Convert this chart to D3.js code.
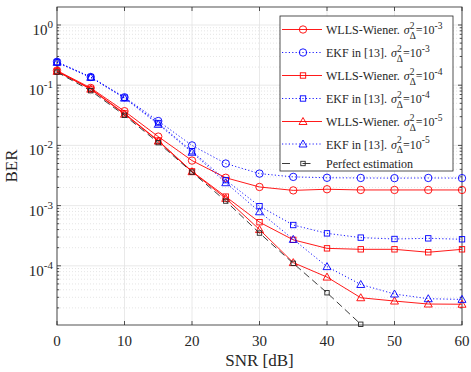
<!DOCTYPE html>
<html>
<head>
<meta charset="utf-8">
<script src="https://cdn.jsdelivr.net/npm/d3@7"></script>
<style>
  body { margin: 0; background: #fff; }
  svg { display: block; font-family: "Liberation Serif", "Times New Roman", serif; }
</style>
</head>
<body>
<div id="chart"></div>
<script>
const snr = [0, 5, 10, 15, 20, 25, 30, 35, 40, 45, 50, 55, 60];
const wllsE3 = [0.175, 0.09, 0.037, 0.014, 0.0056, 0.0029, 0.00204, 0.00179, 0.00187, 0.00182, 0.00182, 0.00182, 0.00182];
const ekfE3 = [0.245, 0.137, 0.063, 0.0254, 0.01, 0.005, 0.0034, 0.003, 0.0029, 0.00288, 0.00286, 0.00288, 0.00286];
const wllsE4 = [0.17, 0.087, 0.034, 0.012, 0.0037, 0.00141, 0.00053, 0.00027, 0.000195, 0.000188, 0.000188, 0.000168, 0.000188];
const ekfE4 = [0.24, 0.135, 0.062, 0.0235, 0.008, 0.00265, 0.00098, 0.000476, 0.000346, 0.000294, 0.000279, 0.000286, 0.000276];
const wllsE5 = [0.17, 0.086, 0.033, 0.0118, 0.00366, 0.00132, 0.0004, 0.000113, 6.5e-5, 2.95e-5, 2.6e-5, 2.32e-5, 2.3e-5];
const ekfE5 = [0.24, 0.135, 0.061, 0.0224, 0.0077, 0.0024, 0.00079, 0.000275, 9.7e-5, 4.9e-5, 3.4e-5, 2.84e-5, 2.77e-5];
const perfect = [0.165, 0.081, 0.0316, 0.0111, 0.0036, 0.00119, 0.00035, 0.00011, 3.57e-5, 1.07e-5];

const xTicks = [0, 10, 20, 30, 40, 50, 60];
const yExps = [0, -1, -2, -3, -4];

const RED = "#ff0000", BLUE = "#0000ff", BLACK = "#262626";
const series = [
  { name: "WLLS-Wiener.", exp: "-3", values: wllsE3, color: RED, dash: null, marker: "circle" },
  { name: "EKF in [13].", exp: "-3", values: ekfE3, color: BLUE, dash: "1.2,2.2", marker: "circle" },
  { name: "WLLS-Wiener.", exp: "-4", values: wllsE4, color: RED, dash: null, marker: "square" },
  { name: "EKF in [13].", exp: "-4", values: ekfE4, color: BLUE, dash: "1.2,2.2", marker: "square" },
  { name: "WLLS-Wiener.", exp: "-5", values: wllsE5, color: RED, dash: null, marker: "triangle" },
  { name: "EKF in [13].", exp: "-5", values: ekfE5, color: BLUE, dash: "1.2,2.2", marker: "triangle" },
  { name: "Perfect estimation", exp: null, values: perfect, color: BLACK, dash: "7,4", marker: "small" },
];

const width = 471, height = 372;
const pL = 57, pR = 462, pT = 7, pB = 325;

const x = d3.scaleLinear().domain([0, 60]).range([pL, pR]);
const y = d3.scaleLog().domain([1.04e-5, 1.99]).range([pB, pT]);

const svg = d3.select("#chart").append("svg")
  .attr("width", width).attr("height", height);

// minor grid (dotted) on y
const minors = [];
for (let e = -5; e <= 0; e++) {
  for (let m = 2; m <= 9; m++) {
    const v = m * Math.pow(10, e);
    if (v > y.domain()[0] && v < y.domain()[1]) minors.push(v);
  }
}
svg.append("g").selectAll("line").data(minors).enter().append("line")
  .attr("x1", pL).attr("x2", pR)
  .attr("y1", (d) => y(d)).attr("y2", (d) => y(d))
  .attr("stroke", "#d4d4d4").attr("stroke-width", 0.6)
  .attr("stroke-dasharray", "1,2");

// major grid
const majors = yExps.map((e) => Math.pow(10, e));
svg.append("g").selectAll("line").data(majors).enter().append("line")
  .attr("x1", pL).attr("x2", pR)
  .attr("y1", (d) => y(d)).attr("y2", (d) => y(d))
  .attr("stroke", "#e3e3e3").attr("stroke-width", 0.8);
svg.append("g").selectAll("line").data(xTicks).enter().append("line")
  .attr("x1", (d) => x(d)).attr("x2", (d) => x(d))
  .attr("y1", pT).attr("y2", pB)
  .attr("stroke", "#e3e3e3").attr("stroke-width", 0.8);

// axes box + ticks
const axG = svg.append("g").attr("stroke", BLACK).attr("stroke-width", 0.8);
axG.append("rect").attr("x", pL).attr("y", pT)
  .attr("width", pR - pL).attr("height", pB - pT).attr("fill", "none");
xTicks.forEach((t) => {
  axG.append("line").attr("x1", x(t)).attr("x2", x(t)).attr("y1", pB).attr("y2", pB - 4);
  axG.append("line").attr("x1", x(t)).attr("x2", x(t)).attr("y1", pT).attr("y2", pT + 4);
});
majors.forEach((v) => {
  axG.append("line").attr("x1", pL).attr("x2", pL + 4).attr("y1", y(v)).attr("y2", y(v));
  axG.append("line").attr("x1", pR).attr("x2", pR - 4).attr("y1", y(v)).attr("y2", y(v));
});
minors.forEach((v) => {
  axG.append("line").attr("x1", pL).attr("x2", pL + 2.2).attr("y1", y(v)).attr("y2", y(v));
  axG.append("line").attr("x1", pR).attr("x2", pR - 2.2).attr("y1", y(v)).attr("y2", y(v));
});

// tick labels
svg.append("g").selectAll("text").data(xTicks).enter().append("text")
  .attr("x", (d) => x(d)).attr("y", pB + 21)
  .attr("text-anchor", "middle").attr("font-size", 15).attr("fill", BLACK)
  .text((d) => d);

yExps.forEach((e) => {
  const t = svg.append("text").attr("x", 53).attr("y", y(Math.pow(10, e)) + 10)
    .attr("text-anchor", "end").attr("font-size", 15).attr("fill", BLACK);
  t.append("tspan").text("10");
  t.append("tspan").attr("dy", -7).attr("font-size", 11).text(e);
});

// axis titles
svg.append("text").attr("x", (pL + pR) / 2).attr("y", 366)
  .attr("text-anchor", "middle").attr("font-size", 17).attr("fill", BLACK)
  .text("SNR [dB]");
svg.append("text").attr("transform", `translate(17, ${(pT + pB) / 2}) rotate(-90)`)
  .attr("text-anchor", "middle").attr("font-size", 17).attr("fill", BLACK)
  .text("BER");

// markers
function drawMarker(g, kind, cx, cy, color) {
  if (kind === "circle") {
    g.append("circle").attr("cx", cx).attr("cy", cy).attr("r", 3.7)
      .attr("fill", "none").attr("stroke", color).attr("stroke-width", 0.9);
  } else if (kind === "square" || kind === "small") {
    const s = kind === "square" ? 5.4 : 4.4;
    g.append("rect").attr("x", cx - s / 2).attr("y", cy - s / 2).attr("width", s).attr("height", s)
      .attr("fill", "none").attr("stroke", color).attr("stroke-width", 0.9);
  } else {
    const h = 4;
    g.append("path").attr("d", `M${cx},${cy - h}L${cx + h},${cy + h * 0.75}L${cx - h},${cy + h * 0.75}Z`)
      .attr("fill", "none").attr("stroke", color).attr("stroke-width", 0.9);
  }
}

const line = d3.line().x((d) => x(d[0])).y((d) => y(d[1]));

series.forEach((s) => {
  const pts = s.values.map((v, i) => [snr[i], v]);
  const g = svg.append("g");
  g.append("path").attr("d", line(pts)).attr("fill", "none")
    .attr("stroke", s.color).attr("stroke-width", 0.9)
    .attr("stroke-dasharray", s.dash);
  pts.forEach((p) => drawMarker(g, s.marker, x(p[0]), y(p[1]), s.color));
});

// legend
const lg = svg.append("g");
lg.append("rect").attr("x", 280).attr("y", 16).attr("width", 173).attr("height", 155)
  .attr("fill", "#fff").attr("stroke", BLACK).attr("stroke-width", 0.8);
const rowY = [29.5, 52.5, 75.5, 98.5, 121.5, 144, 163.5];
series.forEach((s, i) => {
  const ry = rowY[i];
  lg.append("line").attr("x1", 282).attr("x2", 322).attr("y1", ry).attr("y2", ry)
    .attr("stroke", s.color).attr("stroke-width", 0.9)
    .attr("stroke-dasharray", s.dash === "7,4" ? "8,12.5" : s.dash);
  drawMarker(lg, s.marker, 303, ry, s.color);
  const t = lg.append("text").attr("x", 326).attr("y", ry + 4.5)
    .attr("font-size", 12).attr("fill", BLACK);
  t.append("tspan").text(s.name);
  if (s.exp) {
    t.append("tspan").attr("dx", 4).attr("font-style", "italic").text("σ");
    t.append("tspan").attr("dy", -5.5).attr("font-size", 9.5).text("2");
    t.append("tspan").attr("dx", -4.8).attr("dy", 10).attr("font-size", 9.5).text("Δ");
    t.append("tspan").attr("dy", -4.5).text("=10");
    t.append("tspan").attr("dy", -5.5).attr("font-size", 9.5).text(s.exp);
  }
});
</script>
</body>
</html>
